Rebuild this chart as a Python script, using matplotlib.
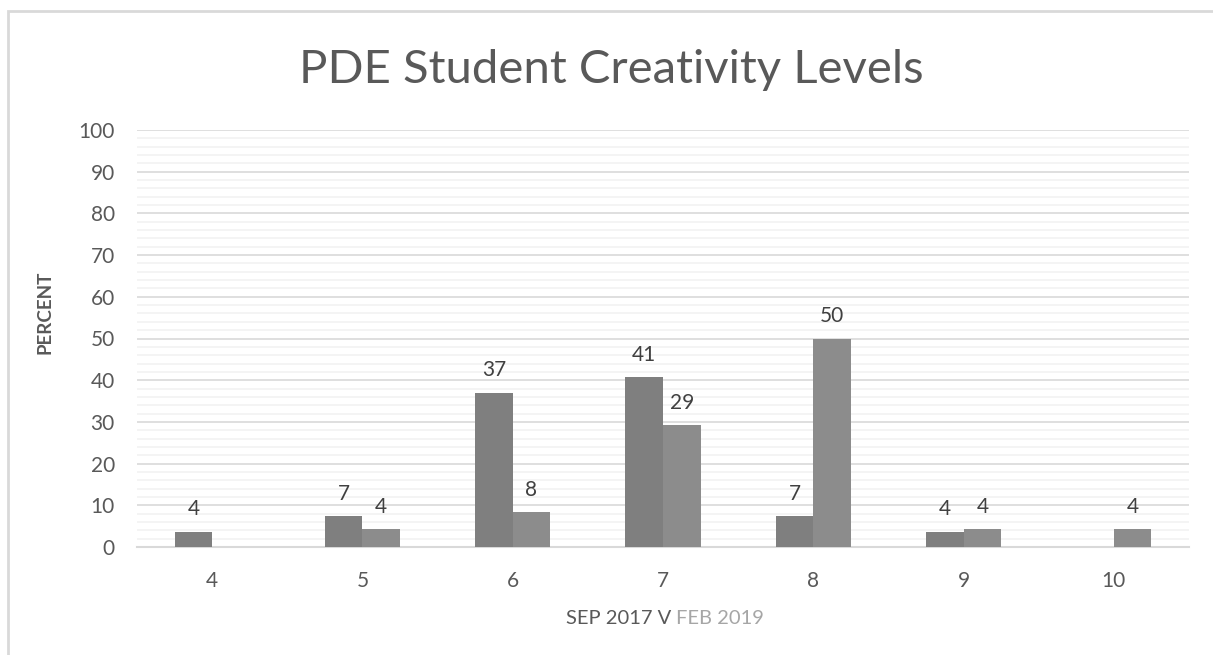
import matplotlib
matplotlib.use("Agg")
import matplotlib.pyplot as plt
import numpy as np
from matplotlib.patches import Rectangle

categories = ["4", "5", "6", "7", "8", "9", "10"]
sep_2017 = [3.7, 7.4, 37.0, 40.7, 7.4, 3.7, 0.0]
feb_2019 = [0.0, 4.2, 8.3, 29.2, 50.0, 4.2, 4.2]

plt.rcParams['font.family'] = ['Lato', 'DejaVu Sans']

W, H = 1213, 655
fig = plt.figure(figsize=(W / 100, H / 100), dpi=100)

# chart border
fig.patches.append(Rectangle((8 / W, -0.1), 1.2, (H - 11) / H + 0.1, transform=fig.transFigure,
                             fill=False, edgecolor="#d9d9d9", linewidth=2, zorder=0))

ax_l, ax_r = 137, 1189
ax_b, ax_t = 547, 130
ax = fig.add_axes([ax_l / W, (H - ax_b) / H, (ax_r - ax_l) / W, (ax_b - ax_t) / H])

x = np.arange(len(categories))
bw = 0.25
c_sep = "#7f7f7f"
c_feb = "#8c8c8c"
b1 = ax.bar(x - bw / 2, sep_2017, bw, color=c_sep, zorder=3)
b2 = ax.bar(x + bw / 2, feb_2019, bw, color=c_feb, zorder=3)

for bars, vals in ((b1, sep_2017), (b2, feb_2019)):
    for rect, v in zip(bars, vals):
        if v > 0:
            ax.annotate(f"{v:.0f}", (rect.get_x() + rect.get_width() / 2, v),
                        xytext=(0, 9), textcoords="offset points", ha="center", va="bottom",
                        fontsize=15, color="#404040")

ax.set_xlim(-0.5, len(categories) - 0.5)
ax.set_ylim(0, 100)
ax.set_yticks(np.arange(0, 101, 10))
ax.set_yticks(np.arange(0, 101, 2), minor=True)
ax.set_xticks(x)
ax.set_xticklabels(categories)
ax.grid(axis="y", which="major", color="#d9d9d9", linewidth=1.2, zorder=0)
ax.grid(axis="y", which="minor", color="#f2f2f2", linewidth=1.2, zorder=0)
ax.tick_params(axis="both", which="both", length=0, labelsize=15, labelcolor="#595959")
ax.tick_params(axis="x", pad=17)
ax.tick_params(axis="y", pad=16)
for s in ["top", "right", "left"]:
    ax.spines[s].set_visible(False)
ax.spines["bottom"].set_color("#d9d9d9")
ax.spines["bottom"].set_linewidth(1.5)
ax.set_axisbelow(True)

fig.text(611 / W, 1 - 70 / H, "PDE Student Creativity Levels", ha="center", va="center",
         fontsize=34, color="#595959", fontweight="normal")
fig.text(45 / W, 1 - 312 / H, "PERCENT", rotation=90, ha="center", va="center",
         fontsize=13.5, fontweight="bold", color="#595959")
fig.text(671 / W, 1 - 618 / H, "SEP 2017 V", ha="right", va="center", fontsize=14.5, color="#595959")
fig.text(676 / W, 1 - 618 / H, "FEB 2019", ha="left", va="center", fontsize=14.5, color="#a6a6a6")

fig.savefig("out.png", dpi=100)
